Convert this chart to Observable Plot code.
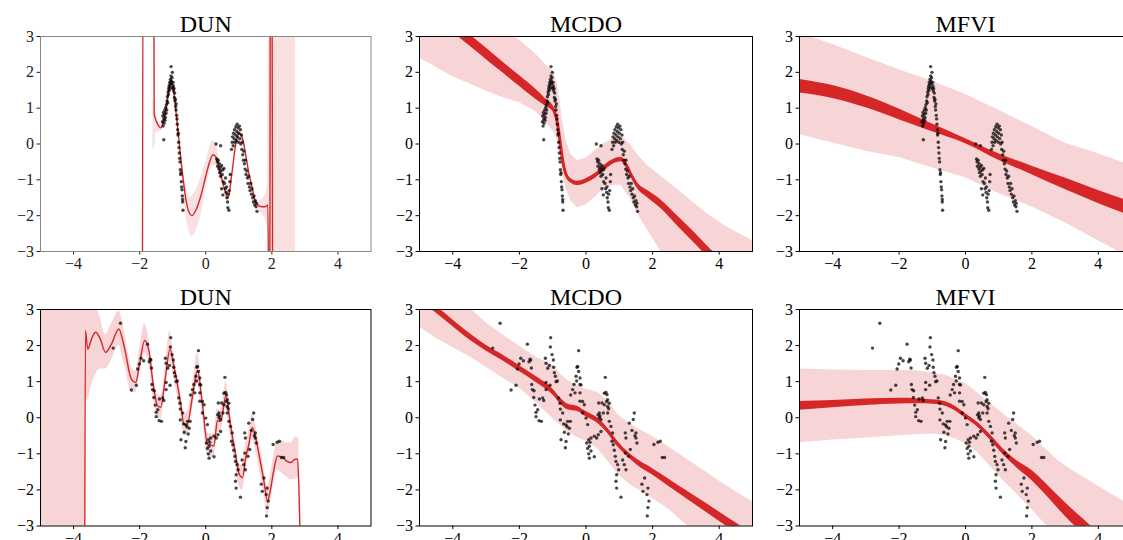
<!DOCTYPE html>
<html><head><meta charset="utf-8">
<script src="https://cdn.jsdelivr.net/npm/d3@7"></script>
<script src="https://cdn.jsdelivr.net/npm/@observablehq/plot@0.6"></script>
<style>
html,body{margin:0;padding:0;background:#fff;overflow:hidden;}
#chart{position:relative;width:1123px;height:540px;overflow:hidden;background:#fff;}
</style></head><body><div id="chart"></div>
<script>
// ---------- axis ticks ----------
const xTicks = [-4, -2, 0, 2, 4];
const yTicks = [-3, -2, -1, 0, 1, 2, 3];
const titles = ["DUN", "MCDO", "MFVI", "DUN", "MCDO", "MFVI"];

// ---------- observed points [x, y] ----------
const topData = [
[-1.31,0.62],[-1.30,0.78],[-1.29,0.50],[-1.28,0.88],[-1.27,0.12],[-1.27,0.70],[-1.26,0.58],[-1.25,0.82],[-1.24,0.95],[-1.23,0.66],
[-1.22,0.74],[-1.21,1.02],[-1.20,0.86],[-1.19,1.10],[-1.18,0.95],[-1.17,1.20],[-1.16,1.32],[-1.15,1.15],[-1.14,1.45],[-1.13,1.38],
[-1.12,1.55],[-1.11,1.62],[-1.10,1.50],[-1.09,1.72],[-1.08,1.66],[-1.07,1.80],[-1.06,1.58],[-1.05,1.90],[-1.05,2.16],[-1.04,1.75],
[-1.03,1.68],[-1.02,1.85],[-1.01,2.00],[-1.00,1.55],[-0.99,1.72],[-0.98,1.62],[-0.97,1.48],[-0.96,1.55],[-0.95,1.30],[-0.94,1.42],
[-0.93,1.20],[-0.92,1.25],[-0.91,1.05],[-0.90,0.95],[-0.89,1.12],[-0.88,0.80],[-0.87,0.70],[-0.86,0.55],[-0.85,0.40],[-0.84,0.25],
[-0.83,0.30],[-0.82,0.05],[-0.81,-0.10],[-0.80,-0.25],[-0.79,-0.40],[-0.78,-0.50],[-0.77,-0.72],[-0.76,-0.85],[-0.75,-0.80],[-0.74,-1.05],
[-0.73,-1.20],[-0.72,-1.28],[-0.71,-1.45],[-0.70,-1.55],[-0.70,-1.62],[-0.69,-1.85],
[0.31,0.00],[0.33,-0.42],[0.35,-0.50],[0.36,-0.62],[0.38,-0.45],[0.40,-0.70],[0.41,-0.55],[0.42,-0.80],[0.44,-0.65],[0.45,-0.90],
[0.46,-0.75],[0.48,-0.60],[0.50,-0.85],[0.52,-0.72],[0.53,-1.05],[0.55,-0.68],[0.57,-1.10],[0.59,-1.25],[0.60,-0.95],[0.62,-1.35],
[0.63,-1.20],[0.64,-1.50],[0.66,-1.62],[0.67,-1.78],[0.68,-1.40],[0.70,-1.85],[0.71,-1.30],[0.73,-1.05],[0.74,-0.85],[0.45,-0.05],
[0.48,-1.25],[0.52,-1.42],
[0.78,-0.15],[0.80,0.05],[0.81,0.20],[0.83,-0.05],[0.84,0.30],[0.86,0.15],[0.87,0.40],[0.88,0.05],[0.90,0.25],[0.91,0.48],
[0.92,0.10],[0.94,0.35],[0.95,0.55],[0.96,0.20],[0.98,0.45],[0.99,0.05],[1.00,0.30],[1.02,0.50],[1.03,0.15],[1.05,0.40],
[1.06,0.00],[1.08,0.25],[1.09,-0.15],[1.10,0.05],[1.12,-0.30],[1.14,-0.45],[1.15,-0.20],[1.17,-0.55],[1.19,-0.70],[1.20,-0.45],
[1.22,-0.85],[1.24,-0.75],[1.26,-0.95],[1.28,-1.10],[1.30,-0.90],[1.32,-1.20],[1.34,-1.30],[1.36,-1.10],[1.38,-1.40],[1.40,-1.25],
[1.42,-1.50],[1.44,-1.62],[1.46,-1.45],[1.48,-1.70],[1.50,-1.58],[1.52,-1.75],[1.53,-1.65],[1.55,-1.88]
];

const botData = [
[-2.80,1.93],[-2.58,2.62],[-2.25,0.77],[-2.10,0.90],[-2.06,1.35],[-2.01,1.49],[-1.96,1.65],[-1.88,1.58],[-1.76,2.04],[-1.71,1.55],
[-1.68,1.62],[-1.66,1.60],[-1.64,1.38],[-1.63,0.92],[-1.61,0.78],[-1.56,0.75],[-1.57,0.56],[-1.53,0.35],[-1.50,0.15],[-1.45,0.22],
[-1.50,0.03],[-1.40,0.52],[-1.41,-0.08],[-1.34,-0.10],[-1.30,0.55],[-1.27,0.48],[-1.22,1.65],[-1.20,1.51],[-1.20,0.98],[-1.20,0.78],
[-1.15,1.37],[-1.10,1.45],[-1.08,0.90],[-1.07,1.96],[-1.06,2.22],[-1.02,1.75],[-0.98,1.60],[-0.97,1.40],[-0.95,1.25],[-0.92,1.15],
[-0.90,1.00],[-0.86,1.02],[-0.82,0.55],[-0.78,0.40],[-0.77,0.24],[-0.70,0.13],[-0.77,-0.06],[-0.67,-0.17],[-0.60,-0.20],[-0.65,-0.40],
[-0.57,-0.25],[-0.55,-0.10],[-0.50,-0.29],[-0.53,-0.45],[-0.75,-0.61],[-0.60,-0.66],[-0.62,-0.83],[-0.47,-0.10],[-0.46,0.63],[-0.40,0.78],
[-0.36,0.92],[-0.33,0.69],[-0.28,1.02],[-0.18,0.92],[-0.18,0.69],[-0.18,0.46],[-0.22,1.86],[-0.25,1.42],[-0.22,1.28],[-0.27,1.40],
[-0.30,1.15],[-0.18,1.10],[-0.15,0.91],[-0.10,0.45],[-0.05,0.36],[-0.10,0.13],[0.00,-0.01],[0.05,-0.19],[0.08,-0.61],[0.02,-0.70],
[0.05,-0.85],[0.12,-0.68],[0.15,-0.56],[0.25,-0.51],[0.32,-0.56],[0.37,-0.47],[0.45,-0.38],[0.10,-0.79],[0.15,-0.92],[0.08,-1.00],
[0.10,-1.12],[0.25,-1.08],[0.58,1.12],[0.60,0.70],[0.55,0.68],[0.63,0.64],[0.65,0.50],[0.62,0.45],[0.70,0.40],[0.65,0.31],
[0.68,0.25],[0.55,0.36],[0.48,0.41],[0.38,0.41],[0.52,0.13],[0.40,0.13],[0.65,0.13],[0.40,0.00],[0.42,0.05],[0.36,0.08],
[0.45,-0.05],[0.70,-0.10],[0.75,-0.24],[0.80,-0.42],[0.82,-0.75],[0.78,-0.65],[0.85,-0.90],[0.88,-1.07],[0.90,-1.21],[0.95,-1.30],
[0.98,-1.44],[0.92,-1.58],[0.90,-1.76],[0.92,-1.95],[1.05,-2.20],[1.10,-1.17],[1.18,-0.98],[1.15,-1.30],[1.20,-1.44],[1.28,-1.07],
[1.30,-0.15],[1.45,0.13],[1.42,-0.05],[1.38,-0.35],[1.18,-0.42],[1.20,-0.56],[1.47,-0.50],[1.50,-0.42],[1.50,-0.56],[1.53,-0.70],
[1.33,-0.88],[2.04,-0.74],[2.16,-0.68],[2.23,-0.65],[2.29,-1.10],[2.36,-1.10],[1.76,-1.67],[1.86,-1.95],[1.83,-2.13],[1.89,-2.31],
[1.86,-2.49],[1.84,-2.72],[1.71,-2.04],[1.68,-1.84]
];

// ---------- DUN predictive mean [x, y] and band [x, lo, hi] ----------
const dunTopMean = [
[-1.92,-8],[-1.89,8],[-1.58,8],[-1.56,0.85],[-1.50,0.65],[-1.42,0.50],[-1.36,0.45],[-1.25,0.75],[-1.15,1.30],[-1.05,1.75],
[-0.98,1.55],[-0.90,0.90],[-0.80,0.00],[-0.70,-0.85],[-0.60,-1.55],[-0.50,-1.92],[-0.42,-2.00],[-0.30,-1.85],[-0.15,-1.45],[0.00,-0.90],
[0.10,-0.55],[0.22,-0.30],[0.30,-0.35],[0.45,-0.85],[0.60,-1.35],[0.68,-1.50],[0.78,-0.90],[0.90,-0.05],[1.00,0.30],[1.10,0.20],
[1.20,-0.25],[1.30,-0.80],[1.40,-1.20],[1.50,-1.60],[1.60,-1.72],[1.70,-1.75],[1.80,-1.75],[1.88,-1.70],[1.93,-8],[1.96,8],
[2.00,8],[2.03,-8]
];
const dunTopBand = [
[-1.60,-0.15,1.30],[-1.55,-0.10,1.00],[-1.50,0.30,0.85],[-1.42,0.35,0.60],[-1.36,0.35,0.55],[-1.25,0.65,0.85],[-1.05,1.65,1.85],
[-0.90,0.80,1.00],[-0.80,-0.10,0.10],[-0.70,-1.10,-0.60],[-0.60,-1.95,-1.20],[-0.50,-2.45,-1.50],[-0.42,-2.60,-1.45],[-0.30,-2.45,-1.30],
[-0.15,-2.00,-0.95],[0.00,-1.30,-0.50],[0.10,-0.85,-0.15],[0.22,-0.60,0.10],[0.30,-0.60,0.05],[0.45,-1.00,-0.65],[0.60,-1.45,-1.20],
[0.68,-1.60,-1.35],[0.80,-0.80,-0.70],[1.00,0.20,0.40],[1.20,-0.35,-0.15],[1.40,-1.30,-1.10],[1.50,-1.70,-1.50],[1.60,-1.85,-1.60],
[1.70,-1.95,-1.55],[1.80,-2.10,-1.40],[1.88,-2.40,-1.10],[1.92,-10,10],[2.72,-10,10]
];
const dunBotMean = [
[-3.66,-3.5],[-3.64,2.42],[-3.57,1.90],[-3.45,2.20],[-3.33,2.37],[-3.20,2.20],[-3.03,1.81],[-2.85,2.05],[-2.63,2.46],[-2.50,2.10],
[-2.42,1.77],[-2.30,1.20],[-2.22,1.03],[-2.12,0.98],[-2.00,1.50],[-1.85,2.14],[-1.72,1.86],[-1.60,1.00],[-1.46,0.33],[-1.36,0.29],
[-1.25,0.90],[-1.08,1.91],[-0.98,1.50],[-0.86,0.94],[-0.75,0.35],[-0.66,-0.18],[-0.56,-0.18],[-0.40,0.60],[-0.25,1.31],[-0.10,0.38],
[0.05,-0.73],[0.15,-0.75],[0.25,-0.78],[0.35,-0.08],[0.45,-0.10],[0.61,0.61],[0.76,-0.27],[0.90,-1.00],[1.01,-1.56],[1.11,-1.66],
[1.21,-1.10],[1.30,-0.75],[1.41,-0.27],[1.52,-0.60],[1.62,-1.06],[1.75,-1.70],[1.87,-2.31],[1.95,-2.03],[2.05,-1.50],[2.17,-1.06],
[2.32,-1.10],[2.45,-1.20],[2.58,-1.24],[2.70,-1.15],[2.78,-1.15],[2.82,-2.00],[2.86,-3.5]
];
const dunBotBand = [
[-5,-10,10],[-3.655,-10,10],[-3.645,0.45,3.5],[-3.57,0.50,3.30],[-3.45,0.90,3.20],[-3.33,1.20,3.10],[-3.20,1.35,2.80],[-3.03,1.35,2.30],
[-2.85,1.60,2.60],[-2.63,2.00,2.95],[-2.50,1.60,2.60],[-2.42,1.35,2.20],[-2.30,0.80,1.60],[-2.22,0.70,1.35],[-2.12,0.70,1.30],
[-2.00,1.20,1.90],[-1.85,1.80,2.60],[-1.72,1.50,2.20],[-1.60,0.65,1.30],[-1.46,0.00,0.65],[-1.36,-0.05,0.60],[-1.25,0.60,1.20],
[-1.08,1.55,2.40],[-0.98,1.20,1.80],[-0.86,0.60,1.25],[-0.75,0.05,0.65],[-0.66,-0.50,0.10],[-0.56,-0.50,0.15],[-0.40,0.25,0.90],
[-0.25,0.95,1.80],[-0.10,0.05,0.70],[0.05,-1.05,-0.40],[0.15,-1.10,-0.45],[0.25,-1.10,-0.45],[0.35,-0.40,0.25],[0.45,-0.40,0.20],
[0.61,0.25,1.00],[0.76,-0.60,0.05],[0.90,-1.30,-0.70],[1.01,-1.90,-1.25],[1.11,-2.00,-1.30],[1.21,-1.45,-0.75],[1.30,-1.10,-0.40],
[1.41,-0.60,0.10],[1.52,-0.95,-0.25],[1.62,-1.40,-0.70],[1.75,-2.05,-1.35],[1.87,-2.70,-1.90],[1.95,-2.40,-1.65],[2.05,-1.85,-1.10],
[2.17,-1.45,-0.65],[2.32,-1.55,-0.65],[2.45,-1.65,-0.70],[2.58,-1.72,-0.70],[2.70,-1.70,-0.55],[2.78,-1.65,-0.55],[2.82,-1.70,-0.60]
];

// ---------- MCDO / MFVI rows: [x, bandLo, bandHi, meanLo, mean, meanHi] ----------
const mcdoTop = [
[-5,2.40,4.60,3.85,4.00,4.15],[-4,1.88,4.10,3.12,3.27,3.42],[-3.5,1.68,3.75,2.74,2.90,3.06],[-3,1.48,3.45,2.36,2.52,2.68],
[-2.5,1.30,3.20,1.99,2.14,2.29],[-2,1.15,2.90,1.61,1.76,1.91],[-1.5,0.90,2.50,1.24,1.38,1.52],[-1.2,0.60,2.20,1.05,1.15,1.25],
[-1.0,0.38,2.05,0.92,1.00,1.08],[-0.95,0.30,1.95,0.84,0.91,0.98],[-0.85,0.10,1.65,0.48,0.54,0.60],[-0.77,-0.35,1.10,-0.06,0.00,0.06],
[-0.7,-0.85,0.60,-0.52,-0.46,-0.40],[-0.6,-1.25,0.10,-0.91,-0.85,-0.79],[-0.45,-1.60,-0.30,-1.09,-1.03,-0.97],[-0.25,-1.78,-0.46,-1.16,-1.10,-1.04],
[0,-1.70,-0.40,-1.09,-1.03,-0.97],[0.25,-1.50,-0.20,-0.96,-0.90,-0.84],[0.55,-1.25,0.02,-0.72,-0.66,-0.60],[0.85,-1.15,0.17,-0.54,-0.48,-0.42],
[1.05,-1.15,0.22,-0.49,-0.43,-0.37],[1.2,-1.35,0.12,-0.64,-0.57,-0.50],[1.35,-1.55,-0.05,-0.92,-0.85,-0.78],[1.55,-1.95,-0.30,-1.25,-1.17,-1.09],
[1.85,-2.40,-0.60,-1.50,-1.40,-1.30],[2.25,-3.00,-0.90,-1.80,-1.68,-1.56],[2.75,-3.60,-1.27,-2.29,-2.15,-2.01],[3.25,-4.20,-1.65,-2.76,-2.61,-2.46],
[3.65,-4.60,-1.95,-3.15,-3.00,-2.85],[4.2,-5.20,-2.30,-3.65,-3.50,-3.35],[5,-6.00,-2.70,-4.35,-4.20,-4.05]
];
const mfviTop = [
[-5,0.26,3.10,1.42,1.61,1.80],[-4,0.03,2.78,1.27,1.45,1.63],[-3,-0.20,2.42,1.01,1.18,1.35],[-2,-0.38,2.07,0.68,0.83,0.98],
[-1,-0.67,1.75,0.34,0.45,0.56],[0,-0.94,1.38,0.01,0.08,0.15],[1,-1.38,0.94,-0.45,-0.36,-0.27],[2,-1.76,0.49,-0.86,-0.74,-0.62],
[3,-2.20,0.02,-1.27,-1.11,-0.95],[4,-2.70,-0.27,-1.66,-1.48,-1.30],[5,-3.20,-0.60,-2.02,-1.82,-1.62]
];
const mcdoBot = [
[-5,2.51,4.30,3.25,3.35,3.45],[-4.5,2.20,3.90,2.90,3.00,3.10],[-4,1.95,3.50,2.53,2.62,2.71],[-3.5,1.70,3.05,2.16,2.25,2.34],
[-3,1.40,2.63,1.85,1.93,2.01],[-2.5,1.10,2.30,1.58,1.66,1.74],[-2,0.82,1.98,1.28,1.36,1.44],[-1.5,0.42,1.68,0.98,1.06,1.14],
[-1.0,-0.02,1.45,0.64,0.72,0.80],[-0.75,-0.22,1.20,0.37,0.45,0.53],[-0.55,-0.40,1.03,0.22,0.30,0.38],[-0.25,-0.55,0.88,0.17,0.24,0.31],
[0,-0.65,0.80,0.03,0.10,0.17],[0.35,-0.85,0.70,-0.15,-0.08,-0.01],[0.65,-1.20,0.48,-0.43,-0.36,-0.29],[0.95,-1.55,0.10,-0.80,-0.73,-0.66],
[1.25,-1.80,-0.12,-1.08,-1.01,-0.94],[1.55,-1.98,-0.30,-1.32,-1.24,-1.16],[2,-2.23,-0.52,-1.59,-1.50,-1.41],[2.5,-2.55,-0.82,-1.91,-1.81,-1.71],
[3,-2.96,-1.13,-2.23,-2.12,-2.01],[3.5,-3.30,-1.44,-2.55,-2.43,-2.31],[4,-3.70,-1.75,-2.87,-2.74,-2.61],[4.5,-4.00,-2.05,-3.19,-3.05,-2.91],
[5,-4.40,-2.33,-3.50,-3.35,-3.20]
];
const mfviBot = [
[-5,-0.69,1.35,0.21,0.33,0.45],[-4,-0.62,1.32,0.28,0.38,0.48],[-3,-0.56,1.31,0.34,0.43,0.52],[-2,-0.50,1.31,0.38,0.46,0.54],
[-1.5,-0.47,1.30,0.39,0.46,0.53],[-1,-0.45,1.25,0.38,0.44,0.50],[-0.6,-0.50,1.18,0.32,0.38,0.44],[-0.3,-0.59,1.07,0.19,0.25,0.31],
[0,-0.72,0.95,-0.01,0.05,0.11],[0.35,-0.95,0.70,-0.24,-0.18,-0.12],[0.75,-1.35,0.40,-0.62,-0.55,-0.48],[1.15,-1.75,0.10,-1.04,-0.96,-0.88],
[1.55,-2.12,-0.18,-1.39,-1.29,-1.19],[2,-2.55,-0.50,-1.74,-1.60,-1.46],[2.4,-2.95,-0.85,-2.12,-1.96,-1.80],[2.8,-3.30,-1.20,-2.53,-2.35,-2.17],
[3.2,-3.70,-1.45,-2.92,-2.72,-2.52],[3.6,-4.10,-1.68,-3.25,-3.05,-2.85],[4,-4.50,-1.90,-3.60,-3.40,-3.20],[5,-5.50,-2.45,-4.50,-4.30,-4.10]
];

// ---------- drawing ----------
const RED = "#d62728", PINK = "#f7d4d5";
const FONT = "'Liberation Serif', 'Times New Roman', serif";
const M = {l: 45, r: 5, t: 40, b: 30};
const cols = [{left: 39.5, w: 330.5}, {left: 418.5, w: 333}, {left: 799, w: 332}];
const rows = [{top: 36, h: 215}, {top: 308.5, h: 216.5}];
const chart = document.getElementById("chart");
const fmt = d => (d < 0 ? "\u2212" + Math.abs(d) : String(d));

function panel(i, marksFn, opts = {}) {
  const c = cols[i % 3], r = rows[Math.floor(i / 3)];
  const frameColor = opts.frameColor || "#000";
  const marks = [
    ...marksFn(),
    Plot.frame({stroke: frameColor, strokeWidth: 1}),
    Plot.text([titles[i]], {frameAnchor: "top", dy: -5, lineAnchor: "bottom", text: d => d, fontSize: 24, fill: "#000"})
  ];
  const svg = Plot.plot({
    width: M.l + c.w + M.r, height: M.t + r.h + M.b,
    marginLeft: M.l, marginRight: M.r, marginTop: M.t, marginBottom: M.b,
    x: {domain: [-5, 5], ticks: xTicks, tickFormat: fmt, tickSize: 3.5, tickPadding: 3, label: null},
    y: {domain: [-3, 3], ticks: yTicks, tickFormat: fmt, tickSize: 3.5, tickPadding: 3, label: null},
    style: {fontFamily: FONT, fontSize: "16px", color: opts.textColor || "#000", background: "transparent", overflow: "visible"},
    marks
  });
  svg.style.position = "absolute";
  svg.style.left = (c.left - M.l) + "px";
  svg.style.top = (r.top - M.t) + "px";
  chart.appendChild(svg);
}

const dots = (data) => Plot.dot(data, {x: d => d[0], y: d => d[1], r: 1.7, fill: "#000", fillOpacity: 0.72, stroke: "none"});

function noisyMarks(rowsData, pts) {
  return () => [
    Plot.areaY(rowsData, {x: d => d[0], y1: d => d[1], y2: d => d[2], fill: PINK, curve: "linear", clip: true}),
    Plot.areaY(rowsData, {x: d => d[0], y1: d => d[3], y2: d => d[5], fill: RED, curve: "monotone-x", clip: true}),
    Plot.line(rowsData, {x: d => d[0], y: d => d[4], stroke: RED, strokeWidth: 3, curve: "monotone-x", clip: true}),
    dots(pts)
  ];
}

function dunMarks(band, mean, pts, bandOpacity) {
  return () => [
    Plot.areaY(band, {x: d => d[0], y1: d => d[1], y2: d => d[2], fill: PINK, fillOpacity: bandOpacity, curve: "monotone-x", clip: true}),
    Plot.line(mean, {x: d => d[0], y: d => d[1], stroke: RED, strokeWidth: 1.4, curve: "monotone-x", clip: true}),
    dots(pts)
  ];
}

panel(0, dunMarks(dunTopBand, dunTopMean, topData, 0.7), {frameColor: "#888", textColor: "#222"});
panel(1, noisyMarks(mcdoTop, topData));
panel(2, noisyMarks(mfviTop, topData));
panel(3, dunMarks(dunBotBand, dunBotMean, botData, 1));
panel(4, noisyMarks(mcdoBot, botData));
panel(5, noisyMarks(mfviBot, botData));
</script></body></html>
